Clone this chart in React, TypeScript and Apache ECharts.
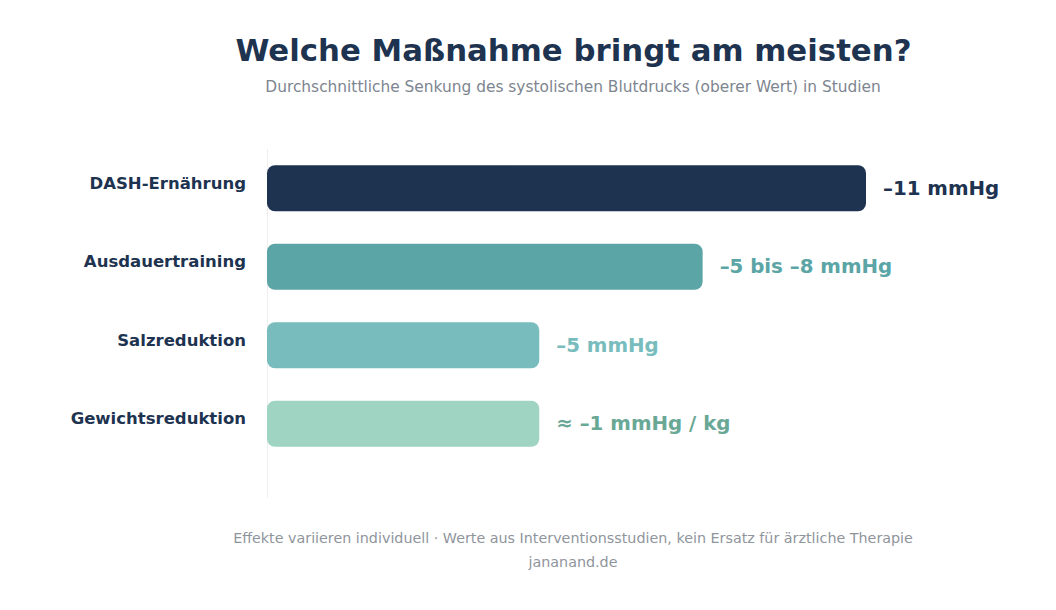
import React, { useEffect, useRef } from "react";
import * as echarts from "echarts";

const categories = ["DASH-Ernährung", "Ausdauertraining", "Salzreduktion", "Gewichtsreduktion"];
const values = [11, 8, 5, 5];
const valueLabels = ["–11 mmHg", "–5 bis –8 mmHg", "–5 mmHg", "≈ –1 mmHg / kg"];
const barColors = ["#1e3350", "#5ba5a6", "#78bcbd", "#9fd4c3"];
const labelColors = ["#1e3350", "#5ba5a6", "#78bcbd", "#6aa896"];

const FONT = "'DejaVu Sans', sans-serif";
const CX = 568;

export default function App() {
  const ref = useRef<HTMLDivElement>(null);
  useEffect(() => {
    if (!ref.current) return;
    const chart = echarts.init(ref.current, undefined, { renderer: "svg" });
    chart.setOption({
      animation: false,
      backgroundColor: "#ffffff",
      title: [
        {
          text: "Welche Maßnahme bringt am meisten?",
          left: CX + 0.5,
          top: 29,
          textAlign: "center",
          textStyle: { fontFamily: FONT, fontSize: 30.8, fontWeight: "bold", color: "#1e3350" },
        },
        {
          text: "Durchschnittliche Senkung des systolischen Blutdrucks (oberer Wert) in Studien",
          left: CX,
          top: 74,
          textAlign: "center",
          textStyle: { fontFamily: FONT, fontSize: 15.4, fontWeight: "normal", color: "#7d8590" },
        },
        {
          text: "Effekte variieren individuell · Werte aus Interventionsstudien, kein Ersatz für ärztliche Therapie",
          left: CX,
          top: 525.5,
          textAlign: "center",
          textStyle: { fontFamily: FONT, fontSize: 14.3, fontWeight: "normal", color: "#8f959c" },
        },
        {
          text: "jananand.de",
          left: CX,
          top: 549.5,
          textAlign: "center",
          textStyle: { fontFamily: FONT, fontSize: 14.3, fontWeight: "normal", color: "#8f959c" },
        },
      ],
      grid: { left: 267, top: 149, width: 599, height: 314, containLabel: false },
      xAxis: {
        type: "value",
        min: 0,
        max: 11,
        show: false,
      },
      yAxis: {
        type: "category",
        data: categories,
        inverse: true,
        axisLine: { show: false },
        axisTick: { show: false },
        splitLine: { show: false },
        axisLabel: {
          margin: 21,
          fontFamily: FONT,
          fontSize: 16.5,
          fontWeight: "bold",
          color: "#1e3350",
          verticalAlign: "bottom",
          lineHeight: 10,
        },
      },
      graphic: [
        {
          type: "line",
          shape: { x1: 267.5, y1: 149, x2: 267.5, y2: 498 },
          style: { stroke: "#eeeeee", lineWidth: 1 },
          z: 0,
        },
      ],
      series: [
        {
          type: "bar",
          barWidth: 46,
          data: values.map((v, i) => ({
            value: v,
            itemStyle: { color: barColors[i], borderRadius: 8 },
            label: {
              show: true,
              position: "right",
              distance: 17,
              formatter: valueLabels[i],
              fontFamily: FONT,
              fontSize: 19.8,
              fontWeight: "bold",
              color: labelColors[i],
            },
          })),
        },
      ],
    });
    return () => chart.dispose();
  }, []);
  return (
    <div
      ref={ref}
      style={{ position: "absolute", left: 0, top: 0, width: 1056, height: 610 }}
    />
  );
}
